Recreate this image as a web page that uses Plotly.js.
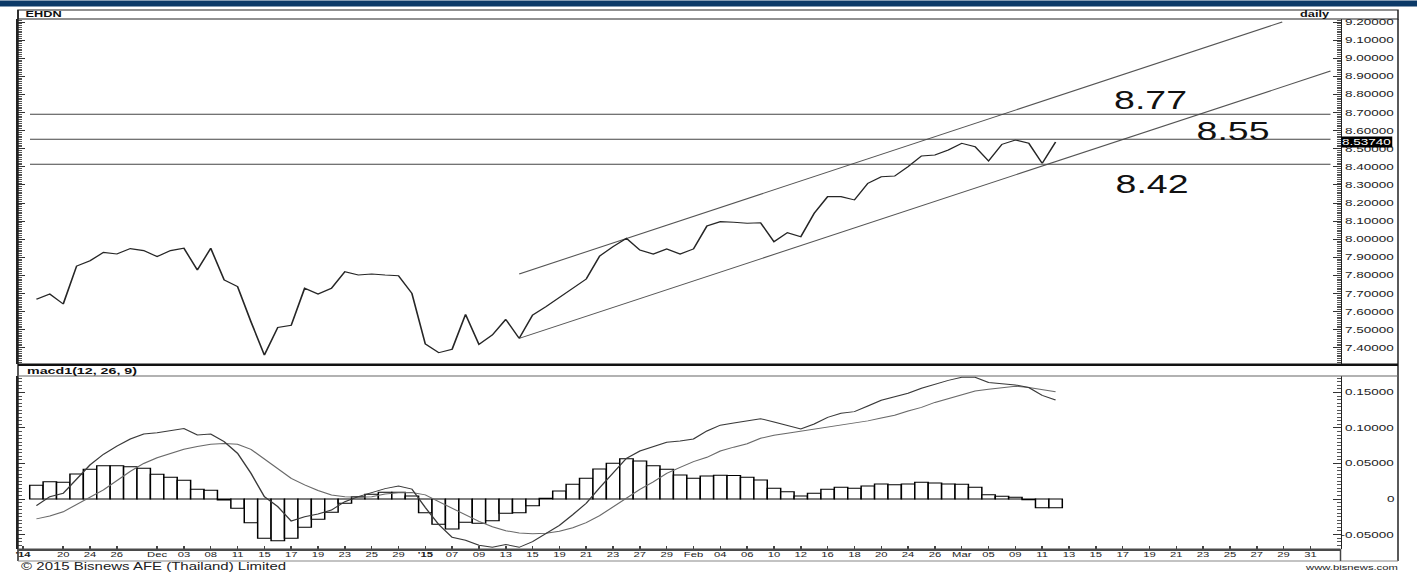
<!DOCTYPE html>
<html><head><meta charset="utf-8">
<script src="https://cdn.plot.ly/plotly-3.0.1.min.js"></script>
<style>
html,body{margin:0;padding:0;background:#fff;overflow:hidden;width:1417px;height:574px}
#wrap{width:945px;height:574px;transform:scale(1.499471,1);transform-origin:0 0}
</style></head><body><div id="wrap"><div id="chart"></div></div>
<script>
// ---------------- data ----------------
const axisStart = '2014-11-17';
const sessionDates = [
 '2014-11-18','2014-11-19','2014-11-20','2014-11-21','2014-11-24','2014-11-25','2014-11-26','2014-11-27','2014-11-28',
 '2014-12-01','2014-12-02','2014-12-03','2014-12-04','2014-12-08','2014-12-09','2014-12-11','2014-12-12','2014-12-15',
 '2014-12-16','2014-12-17','2014-12-18','2014-12-19','2014-12-22','2014-12-23','2014-12-24','2014-12-25','2014-12-26',
 '2014-12-29','2014-12-30',
 '2015-01-05','2015-01-06','2015-01-07','2015-01-08','2015-01-09','2015-01-12','2015-01-13','2015-01-14','2015-01-15',
 '2015-01-16','2015-01-19','2015-01-20','2015-01-21','2015-01-22','2015-01-23','2015-01-26','2015-01-27','2015-01-28',
 '2015-01-29','2015-01-30',
 '2015-02-02','2015-02-03','2015-02-04','2015-02-05','2015-02-06','2015-02-09','2015-02-10','2015-02-11','2015-02-12',
 '2015-02-13','2015-02-16','2015-02-17','2015-02-18','2015-02-19','2015-02-20','2015-02-23','2015-02-24','2015-02-25',
 '2015-02-26','2015-02-27',
 '2015-03-02','2015-03-03','2015-03-05','2015-03-06','2015-03-09','2015-03-10','2015-03-11','2015-03-12'];
const futureDates = ['2015-03-13','2015-03-14','2015-03-15','2015-03-16','2015-03-17','2015-03-18',
 '2015-03-19','2015-03-20','2015-03-21','2015-03-22','2015-03-23','2015-03-24','2015-03-25','2015-03-26',
 '2015-03-27','2015-03-28','2015-03-29','2015-03-30','2015-03-31'];

const closePrice = [7.668,7.697,7.642,7.852,7.881,7.927,7.918,7.948,7.937,7.904,
 7.937,7.950,7.830,7.950,7.775,7.738,7.544,7.360,7.513,7.524,
 7.729,7.697,7.729,7.820,7.802,7.808,7.802,7.798,7.701,7.421,
 7.373,7.392,7.585,7.419,7.471,7.557,7.452,7.581,7.627,7.679,
 7.729,7.780,7.907,7.959,8.005,7.940,7.918,7.946,7.918,7.946,
 8.073,8.097,8.094,8.088,8.091,7.986,8.036,8.014,8.143,8.235,
 8.235,8.217,8.309,8.345,8.349,8.401,8.460,8.465,8.493,8.530,
 8.511,8.432,8.524,8.548,8.530,8.419,8.5374];

const macdLine = [-0.0094,0.0033,0.0080,0.029,0.048,0.063,0.0746,0.0845,0.0915,0.0934,
 0.0958,0.0991,0.0901,0.0915,0.0808,0.0643,0.0362,0.0033,-0.0108,-0.031,
 -0.025,-0.0211,-0.0155,-0.0038,0.0033,0.0089,0.0146,0.0183,0.014,-0.012,
 -0.036,-0.054,-0.058,-0.065,-0.068,-0.064,-0.068,-0.060,-0.049,-0.037,
 -0.022,-0.006,0.016,0.037,0.0573,0.0676,0.0742,0.0798,0.0817,0.0845,
 0.0958,0.104,0.107,0.110,0.113,0.1085,0.1038,0.0986,0.1056,0.115,
 0.1207,0.123,0.131,0.139,0.144,0.149,0.156,0.162,0.167,0.1714,
 0.1714,0.164,0.162,0.1606,0.157,0.146,0.1394];

const signalLine = [-0.028,-0.024,-0.018,-0.008,0.002,0.013,0.026,0.039,0.050,0.058,
 0.064,0.070,0.074,0.077,0.078,0.077,0.070,0.056,0.043,0.029,
 0.020,0.012,0.0056,0.0033,0.0023,0.0033,0.007,0.0088,0.0093,0.0058,
 -0.0038,-0.013,-0.023,-0.0315,-0.039,-0.0446,-0.048,-0.049,-0.0483,-0.0455,
 -0.0404,-0.0333,-0.0235,-0.0108,0.0014,0.0136,0.024,0.036,0.0446,0.0526,
 0.0587,0.0676,0.073,0.0779,0.0855,0.0897,0.0925,0.0953,0.0981,0.1014,
 0.104,0.1075,0.110,0.114,0.118,0.124,0.129,0.136,0.141,0.1465,
 0.152,0.1545,0.1563,0.1587,0.157,0.1545,0.151];

const macdHist = [0.0193,0.0244,0.0235,0.0352,0.0418,0.0469,0.0469,0.0455,0.0432,0.0347,
 0.0305,0.0263,0.0136,0.0122,-0.0014,-0.0131,-0.0333,-0.0554,-0.0587,-0.0554,
 -0.0399,-0.0286,-0.0188,-0.0061,0.0033,0.0066,0.0094,0.0094,0.0042,-0.0192,
 -0.0357,-0.0423,-0.0329,-0.0343,-0.0305,-0.0202,-0.0192,-0.0094,0.0009,0.0113,
 0.0207,0.0291,0.0423,0.0502,0.0568,0.0535,0.0469,0.0418,0.0338,0.0291,
 0.0324,0.0333,0.0330,0.0305,0.0268,0.0150,0.0103,0.0042,0.0080,0.0136,
 0.0164,0.0150,0.0183,0.0211,0.0202,0.0211,0.0235,0.0225,0.0211,0.0207,
 0.0164,0.0061,0.0038,0.0023,-0.0010,-0.0122,-0.0122];

const tickDates = ['2014-11-17','2014-11-20','2014-11-24','2014-11-26','2014-12-01','2014-12-03','2014-12-08',
 '2014-12-11','2014-12-15','2014-12-17','2014-12-19','2014-12-23','2014-12-25','2014-12-29','2015-01-05',
 '2015-01-07','2015-01-09','2015-01-13','2015-01-15','2015-01-19','2015-01-21','2015-01-23','2015-01-27',
 '2015-01-29','2015-02-02','2015-02-04','2015-02-06','2015-02-10','2015-02-12','2015-02-16','2015-02-18',
 '2015-02-20','2015-02-24','2015-02-26','2015-03-02','2015-03-05','2015-03-09','2015-03-11','2015-03-13',
 '2015-03-15','2015-03-17','2015-03-19','2015-03-21','2015-03-23','2015-03-25','2015-03-27','2015-03-29','2015-03-31'];
const tickText = ["<b>'14</b>",'20','24','26','Dec','03','08','11','15','17','19','23','25','29',"<b>'15</b>",
 '07','09','13','15','19','21','23','27','29','Feb','04','06','10','12','16','18','20','24','26','Mar',
 '05','09','11','13','15','17','19','21','23','25','27','29','31'];

const levelValues = [8.69, 8.552, 8.414];
const levelText = ['8.77', '8.55', '8.42'];

// channel drawn on the chart (axis position, price)
const channelUpperX = [37, 93.9], channelUpperY = [7.808, 9.2];
const channelLowerX = [37, 97.5], channelLowerY = [7.452, 8.929];

const macdTitle = 'macd1(12, 26, 9)';
const yTop = [7.4,7.5,7.6,7.7,7.8,7.9,8.0,8.1,8.2,8.3,8.4,8.5,8.6,8.7,8.8,8.9,9.0,9.1,9.2];
const yMacd = [-0.05, 0, 0.05, 0.10, 0.15];
const yMacdText = ['-0.05000','0','0.05000','0.10000','0.15000'];

// ---------------- layout helpers ----------------
const axisDates = [axisStart].concat(sessionDates, futureDates);
const pos = {}; axisDates.forEach((d, i) => pos[d] = i);
const sx = sessionDates.map(d => pos[d]);

const S = 1417 / 945, W = 945, H = 574, ML = 12, MR = 51, MT = 19, MB = 25;
const PW = W - ML - MR, PH = H - MT - MB;
const px = r => (r / S - ML) / PW;
const py = r => (H - MB - r) / PH;
const X0 = 23, DX = 13.41;
const xRange = [(18 - X0) / DX, (1340.5 - X0) / DX];
const FONT = 'Liberation Sans, Arial, Helvetica, sans-serif';

const traces = [
 {type:'bar', x:sx, y:macdHist, xaxis:'x', yaxis:'y2', width:1,
  marker:{color:'#ffffff', line:{color:'#000000', width:1}}, hoverinfo:'skip'},
 {type:'scatter', mode:'lines', x:sx, y:signalLine, xaxis:'x', yaxis:'y2',
  line:{color:'#6a6a6a', width:1}, hoverinfo:'skip'},
 {type:'scatter', mode:'lines', x:sx, y:macdLine, xaxis:'x', yaxis:'y2',
  line:{color:'#3a3a3a', width:1}, hoverinfo:'skip'},
 {type:'scatter', mode:'lines', x:channelUpperX, y:channelUpperY, xaxis:'x2', yaxis:'y',
  line:{color:'#555', width:1}, hoverinfo:'skip'},
 {type:'scatter', mode:'lines', x:channelLowerX, y:channelLowerY, xaxis:'x2', yaxis:'y',
  line:{color:'#555', width:1}, hoverinfo:'skip'},
 {type:'scatter', mode:'lines', x:sx, y:closePrice, xaxis:'x2', yaxis:'y',
  line:{color:'#262626', width:1.1}, hoverinfo:'skip'}
];

const shapes = [
 {type:'rect', xref:'paper', yref:'paper', x0:px(0), x1:px(1417), y0:py(6.5), y1:py(0.5), fillcolor:'#0c3a68', line:{width:0}},
 {type:'rect', xref:'paper', yref:'paper', x0:px(18), x1:px(1398), y0:py(19), y1:py(10), fillcolor:'#fff', line:{color:'#222', width:1}},
 {type:'line', xref:'paper', yref:'paper', x0:px(1398), x1:px(1398), y0:py(19), y1:py(561), line:{color:'#222', width:1}},
 {type:'line', xref:'paper', yref:'paper', x0:px(18), x1:px(18), y0:py(10), y1:py(561), line:{color:'#222', width:1}},
 {type:'rect', xref:'paper', yref:'paper', x0:px(18), x1:px(1398), y0:py(366), y1:py(363.5), fillcolor:'#111', line:{width:0}},
 {type:'line', xref:'paper', yref:'paper', x0:px(18), x1:px(1398), y0:py(376), y1:py(376), line:{color:'#666', width:1}},
 {type:'rect', xref:'paper', yref:'paper', x0:px(18), x1:px(1340.5), y0:py(551), y1:py(548.5), fillcolor:'#4a4a4a', line:{width:0}},
 {type:'line', xref:'paper', yref:'paper', x0:px(18), x1:px(1398), y0:py(561), y1:py(561), line:{color:'#888', width:1}},
 {type:'line', xref:'paper', yref:'paper', x0:px(1340.5), x1:px(1340.5), y0:py(549), y1:py(561), line:{color:'#444', width:1}}
];
levelValues.forEach(v => shapes.push({type:'line', xref:'x2', yref:'y', x0:0.52, x1:97.5, y0:v, y1:v,
  line:{color:'#444', width:1}}));

const annotations = [
 {xref:'paper', yref:'paper', x:px(22), y:py(14.5), xanchor:'left', yanchor:'middle', showarrow:false,
  text:'<b>EHDN</b>', font:{family:FONT, size:8.5, color:'#111'}},
 {xref:'paper', yref:'paper', x:px(1333), y:py(14.5), xanchor:'right', yanchor:'middle', showarrow:false,
  text:'<b>daily</b>', font:{family:FONT, size:8.5, color:'#111'}},
 {xref:'paper', yref:'paper', x:px(24), y:py(370.5), xanchor:'left', yanchor:'middle', showarrow:false,
  text:'<b>' + macdTitle + '</b>', font:{family:FONT, size:9.5, color:'#111'}},
 {xref:'x2', yref:'y', x:84.05, y:8.769, showarrow:false, text:levelText[0], font:{family:FONT, size:25, color:'#111'}},
 {xref:'x2', yref:'y', x:90.2, y:8.598, showarrow:false, text:levelText[1], font:{family:FONT, size:25, color:'#111'}},
 {xref:'x2', yref:'y', x:84.2, y:8.305, showarrow:false, text:levelText[2], font:{family:FONT, size:25, color:'#111'}},
 {xref:'paper', yref:'paper', x:px(18), y:py(566.5), xanchor:'left', yanchor:'middle', showarrow:false,
  text:'© 2015 Bisnews AFE (Thailand) Limited', font:{family:FONT, size:10, color:'#222'}},
 {xref:'paper', yref:'paper', x:px(1400), y:py(567), xanchor:'right', yanchor:'middle', showarrow:false,
  text:'www.bisnews.com', font:{family:FONT, size:7.5, color:'#222'}}
];
// right-aligned value-axis labels (as in the reference)
yTop.forEach(v => annotations.push({xref:'paper', yref:'y', x:px(1396.5), y:v, xanchor:'right', yanchor:'middle',
  showarrow:false, text:v.toFixed(5), borderpad:0, font:{family:FONT, size:9, color:'#222'}}));
yMacd.forEach((v, i) => annotations.push({xref:'paper', yref:'y2', x:px(1396.5), y:v, xanchor:'right', yanchor:'middle',
  showarrow:false, text:yMacdText[i], borderpad:0, font:{family:FONT, size:9, color:'#222'}}));
annotations.push({xref:'paper', yref:'y', x:px(1340.5), y:closePrice[closePrice.length-1], xanchor:'left', yanchor:'middle',
  showarrow:false, text:closePrice[closePrice.length-1].toFixed(5), bgcolor:'#000', borderpad:0,
  font:{family:FONT, size:9, color:'#fff'}});

const layout = {
 width:W, height:H, margin:{l:ML, r:MR, t:MT, b:MB, pad:0},
 paper_bgcolor:'#fff', plot_bgcolor:'#fff', showlegend:false, bargap:0,
 font:{family:FONT, color:'#222'},
 xaxis:{anchor:'y2', range:xRange, tickvals:tickDates.map(d => pos[d]), ticktext:tickText,
  ticks:'inside', ticklen:3, tickcolor:'#444', showline:false, showgrid:false, zeroline:false,
  tickfont:{family:FONT, size:7.5, color:'#222'}},
 xaxis2:{anchor:'y', matches:'x', showticklabels:false, ticks:'', showline:false, showgrid:false, zeroline:false},
 yaxis:{domain:[py(364), 1], anchor:'x2', side:'right', range:[7.3105, 9.2166],
  tickvals:yTop, showticklabels:false, ticks:'inside', ticklen:5, tickcolor:'#333',
  showline:true, linecolor:'#222', linewidth:1, mirror:'ticks', showgrid:false, zeroline:false,
  minor:{ticks:'inside', ticklen:2.5, dtick:0.01, tick0:7.4, tickcolor:'#555'}},
 yaxis2:{domain:[0, py(376)], anchor:'x', side:'right', range:[-0.0704, 0.1732],
  tickvals:yMacd, showticklabels:false, ticks:'inside', ticklen:5, tickcolor:'#333',
  showline:true, linecolor:'#222', linewidth:1, mirror:'ticks', showgrid:false, zeroline:false,
  minor:{ticks:'inside', ticklen:2.5, dtick:0.005, tick0:0, tickcolor:'#555'}},
 shapes:shapes, annotations:annotations
};

Plotly.newPlot('chart', traces, layout, {staticPlot:true, displayModeBar:false});
</script></body></html>
